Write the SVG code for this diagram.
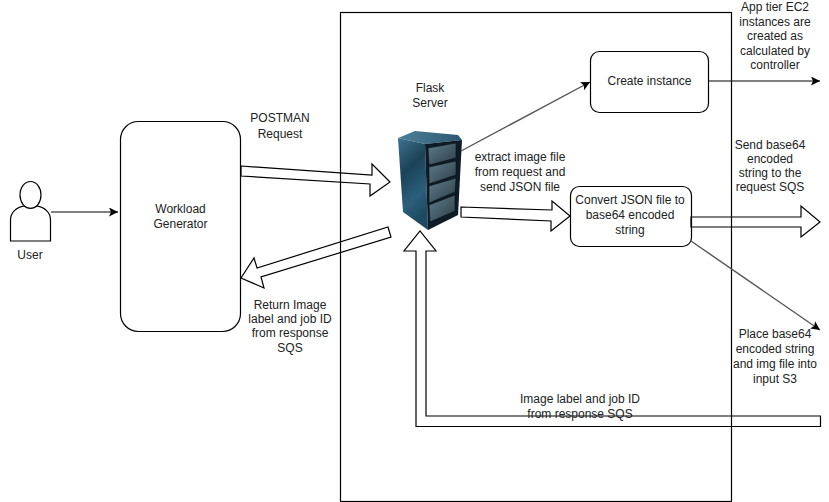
<svg xmlns="http://www.w3.org/2000/svg" width="829" height="502" viewBox="0 0 829 502">
<style>
text{font-family:"Liberation Sans",Arial,sans-serif;font-size:12px;fill:#222;text-anchor:middle}
.box{fill:#fff;stroke:#000;stroke-width:1.2}
.none{fill:none;stroke:#000;stroke-width:1.2}
.block{fill:none;stroke:#000;stroke-width:1.2;stroke-linejoin:miter}
.line{fill:none;stroke:#000;stroke-width:1}
.gline{fill:none;stroke:#555;stroke-width:1.4}
</style>
<defs>
<marker id="tip" markerUnits="userSpaceOnUse" markerWidth="12" markerHeight="10" refX="9" refY="4.500" orient="auto"><path d="M0 0L9 4.500L0 9L2 4.500Z" fill="#000"/></marker>
<linearGradient id="side" x1="0" y1="0" x2="0.300" y2="1"><stop offset="0" stop-color="#3f7390"/><stop offset="0.4" stop-color="#1c4257"/><stop offset="0.75" stop-color="#2b5f7c"/><stop offset="1" stop-color="#1d4a62"/></linearGradient>
<linearGradient id="top" x1="0" y1="0" x2="1" y2="0"><stop offset="0" stop-color="#4d7f9a"/><stop offset="1" stop-color="#2c5870"/></linearGradient>
<linearGradient id="rack" x1="0" y1="0" x2="1" y2="1"><stop offset="0" stop-color="#5f7c8b"/><stop offset="1" stop-color="#2c3f49"/></linearGradient>
</defs>
<g id="flask-frame"><rect x="340.500" y="12.500" width="391" height="489" class="none"/></g>
<g id="user">
<ellipse cx="30.500" cy="195" rx="10.500" ry="13.500" class="box"/>
<path d="M10.500 241V220C10.500 212 17 207 24 206C28 209 33 209 37 206C44 207 50.500 212 50.500 220V241Z" class="box"/>
<text x="30" y="259">User</text>
</g>
<g id="workload"><rect x="120.500" y="121.500" width="120" height="210" rx="18" class="box"/>
<text x="180.500" y="213">Workload</text><text x="180.500" y="228">Generator</text></g>
<g id="server">
<text x="430" y="92">Flask</text><text x="430" y="107">Server</text>
<path d="M398 138L415 131L458 135L462 140L425 144Z" fill="url(#top)"/>
<path d="M398 138L425 144L428 230L403 212Z" fill="url(#side)"/>
<path d="M425 144L462 140L458 215L428 230Z" fill="#0d1c26"/>
<g fill="url(#rack)" stroke="#0a0f14" stroke-width="0.6">
<path d="M428 148L456 143L456 158L429 165Z"/>
<path d="M429 167L456 161L456 175L429 184Z"/>
<path d="M429 186L456 178L455 192L429 203Z"/>
<path d="M429 205L455 195L455 211L430 222Z"/>
</g>
</g>
<g id="create-instance"><rect x="590.500" y="51.500" width="118" height="61" rx="9" class="box"/>
<text x="649.500" y="85">Create instance</text></g>
<g id="convert"><rect x="570.500" y="186.500" width="121" height="60" rx="9" class="box"/>
<text x="630" y="204">Convert JSON file to</text><text x="630" y="219">base64 encoded</text><text x="630" y="234">string</text></g>
<g id="connectors">
<path d="M51 212H118" class="line" marker-end="url(#tip)"/>
<path d="M461 151L590 82" class="gline" marker-end="url(#tip)"/>
<path d="M708 81H820" class="line" marker-end="url(#tip)"/>
<path d="M691 241L820 330" class="gline" marker-end="url(#tip)"/>
<path d="M241 166L372 175L372 164L390 182L370 196L370 184L241 176Z" class="block"/>
<path d="M388 227L391 237L261 277L264 288L241 278L254 258L257 268Z" class="block"/>
<path d="M461 207L552 210L552 201L570 216L551 231L551 221L461 217Z" class="block"/>
<path d="M691 217H801V206L820 222L801 237V227H691Z" class="block"/>
<path d="M820.500 416H426V251H436L420 231L404 251H416V426.500H820.500Z" class="block"/>
</g>
<g id="labels">
<text x="280" y="122">POSTMAN</text><text x="280" y="138">Request</text>
<text x="520" y="161">extract image file</text><text x="520" y="176">from request and</text><text x="520" y="191">send JSON file</text>
<text x="290" y="309">Return Image</text><text x="290" y="323">label and job ID</text><text x="290" y="337">from response</text><text x="290" y="352">SQS</text>
<text x="775" y="11">App tier EC2</text><text x="775" y="26">instances are</text><text x="775" y="40">created as</text><text x="775" y="55">calculated by</text><text x="775" y="69">controller</text>
<text x="770" y="149">Send base64</text><text x="770" y="163">encoded</text><text x="770" y="177">string to the</text><text x="770" y="191">request SQS</text>
<text x="775" y="338">Place base64</text><text x="775" y="353">encoded string</text><text x="775" y="368">and img file into</text><text x="775" y="383">input S3</text>
<text x="580" y="403">Image label and job ID</text><text x="580" y="418">from response SQS</text>
</g>
</svg>
